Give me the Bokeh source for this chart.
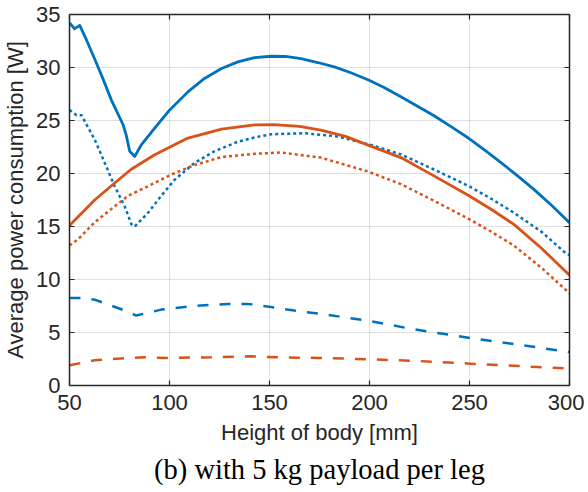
from bokeh.plotting import figure
from bokeh.models import LinearAxis, Title, FixedTicker
from bokeh.embed import file_html
from bokeh.resources import INLINE

# ---- data ----
blue_solid_x = [50, 52.6, 55.1, 58.5, 62.6, 66.8, 71, 76.8, 78.4, 80.1, 82.6, 85.9, 92.6, 100.1, 109.2,
                117.5, 126, 134.2, 142.5, 150.8, 158, 165.8, 174.1, 182.4, 190.7, 199.8, 207.3, 215.7,
                224, 232.3, 240.6, 249.8, 257.3, 265.6, 273.9, 282.2, 291, 300]
blue_solid_y = [34.2, 33.66, 33.97, 32.6, 30.8, 28.9, 26.9, 24.6, 23.6, 22.1, 21.6, 22.7, 24.27, 26.0, 27.7,
                28.97, 29.9, 30.53, 30.94, 31.06, 31.04, 30.84, 30.47, 30.06, 29.5, 28.8, 28.12, 27.24,
                26.35, 25.45, 24.45, 23.3, 22.25, 21.05, 19.8, 18.5, 17.0, 15.35]

blue_dot_x = [50, 53.5, 56, 62.6, 67.6, 72.6, 77.6, 81, 82.6, 89.3, 95.9, 102.5, 112.5, 122.5, 134.2,
              142.5, 150.8, 167.4, 184, 200.7, 215.7, 232, 249.8, 261, 272.2, 286, 298, 300]
blue_dot_y = [26.0, 25.5, 25.5, 23.2, 21.0, 18.8, 16.9, 15.2, 15.0, 16.3, 17.9, 19.4, 21.0, 22.1, 23.0,
              23.4, 23.7, 23.8, 23.5, 22.7, 21.8, 20.4, 18.8, 17.6, 16.3, 14.5, 12.5, 12.3]

orange_solid_x = [50, 62.6, 72.6, 80.9, 92.6, 109.2, 126, 142.5, 152, 165, 175.7, 188, 199, 215.7,
                  232, 249.8, 261, 272.2, 286, 300]
orange_solid_y = [15.1, 17.5, 19.1, 20.4, 21.77, 23.34, 24.18, 24.58, 24.62, 24.45, 24.1, 23.5, 22.7, 21.5,
                  19.8, 17.9, 16.6, 15.2, 12.95, 10.4]

orange_dot_x = [50, 54.3, 62.6, 72.6, 79.3, 89.3, 100.9, 112.5, 126, 142.5, 155.8, 175.7, 199, 215.7,
                232, 249.8, 261, 272.2, 286, 300]
orange_dot_y = [13.2, 13.8, 15.4, 16.9, 17.9, 18.8, 19.9, 20.8, 21.55, 21.86, 21.98, 21.5, 20.2, 19.0,
                17.45, 15.7, 14.5, 13.2, 11.1, 8.7]

blue_dash_x = [50, 56, 62.6, 77.6, 83.4, 95.9, 112.5, 129.2, 139.2, 150.8, 162.4, 175.7, 199.8, 220.7,
               250.6, 277.2, 300]
blue_dash_y = [8.26, 8.26, 8.1, 7.07, 6.6, 7.16, 7.5, 7.7, 7.7, 7.4, 7.07, 6.75, 6.1, 5.35,
               4.47, 3.78, 3.15]

orange_dash_x = [50, 62.6, 79.3, 87.6, 99.3, 120.9, 140.8, 154.1, 175.7, 199.8, 225.6, 250.6, 277.2, 300]
orange_dash_y = [1.91, 2.38, 2.6, 2.66, 2.6, 2.66, 2.75, 2.66, 2.6, 2.47, 2.3, 2.06, 1.81, 1.6]

x_ticks = [50, 100, 150, 200, 250, 300]
y_ticks = [0, 5, 10, 15, 20, 25, 30, 35]

BLUE = "#0072BD"
ORANGE = "#D95319"
AX = "#262626"
FONT = "Liberation Sans"

p = figure(width=584, height=488, x_range=(50, 300), y_range=(0, 35),
           output_backend="svg", toolbar_location=None,
           min_border_left=68, min_border_right=15, min_border_top=14, min_border_bottom=101)
p.background_fill_color = "white"
p.outline_line_color = None

p.line(blue_dash_x, blue_dash_y, color=BLUE, line_width=2.5, line_dash="11 11")
p.line(orange_dash_x, orange_dash_y, color=ORANGE, line_width=2.5, line_dash="11 11")
p.line(blue_dot_x, blue_dot_y, color=BLUE, line_width=2.5, line_dash="3 3")
p.line(orange_dot_x, orange_dot_y, color=ORANGE, line_width=2.5, line_dash="3 3")
p.line(blue_solid_x, blue_solid_y, color=BLUE, line_width=2.8, line_join="round")
p.line(orange_solid_x, orange_solid_y, color=ORANGE, line_width=2.8, line_join="round")

for ax in (p.xaxis[0], p.yaxis[0]):
    ax.axis_line_color = AX
    ax.axis_line_width = 1.5
    ax.major_tick_line_color = AX
    ax.major_tick_line_width = 1.2
    ax.major_tick_in = 5
    ax.major_tick_out = 0
    ax.minor_tick_line_color = None
    ax.major_label_text_font = FONT
    ax.major_label_text_font_size = "22px"
    ax.major_label_text_color = AX
    ax.axis_label_text_font = FONT
    ax.axis_label_text_font_size = "22px"
    ax.axis_label_text_font_style = "normal"
    ax.axis_label_text_color = AX
    ax.major_label_standoff = 9

p.xaxis[0].ticker = FixedTicker(ticks=x_ticks)
p.yaxis[0].ticker = FixedTicker(ticks=y_ticks)
p.xaxis[0].axis_label = "Height of body [mm]"
p.yaxis[0].axis_label = "Average power consumption [W]"
p.xaxis[0].axis_label_standoff = 7
p.yaxis[0].axis_label_standoff = 5

for loc, ticks in (("above", x_ticks), ("right", y_ticks)):
    a = LinearAxis(ticker=FixedTicker(ticks=ticks))
    a.axis_line_color = AX
    a.axis_line_width = 1.5
    a.major_tick_line_color = AX
    a.major_tick_line_width = 1.2
    a.major_tick_in = 5
    a.major_tick_out = 0
    a.minor_tick_line_color = None
    a.major_label_text_font_size = "0px"
    a.major_label_standoff = 0
    p.add_layout(a, loc)

p.grid.grid_line_color = AX
p.grid.grid_line_alpha = 0.15
p.xgrid.ticker = FixedTicker(ticks=x_ticks)
p.ygrid.ticker = FixedTicker(ticks=y_ticks)

p.add_layout(Title(text="(b) with 5 kg payload per leg", align="center",
                   text_font="Liberation Serif", text_font_size="28.5px",
                   text_font_style="normal", text_color="black", standoff=8), "below")

open("out.html", "w").write(file_html(p, INLINE))
